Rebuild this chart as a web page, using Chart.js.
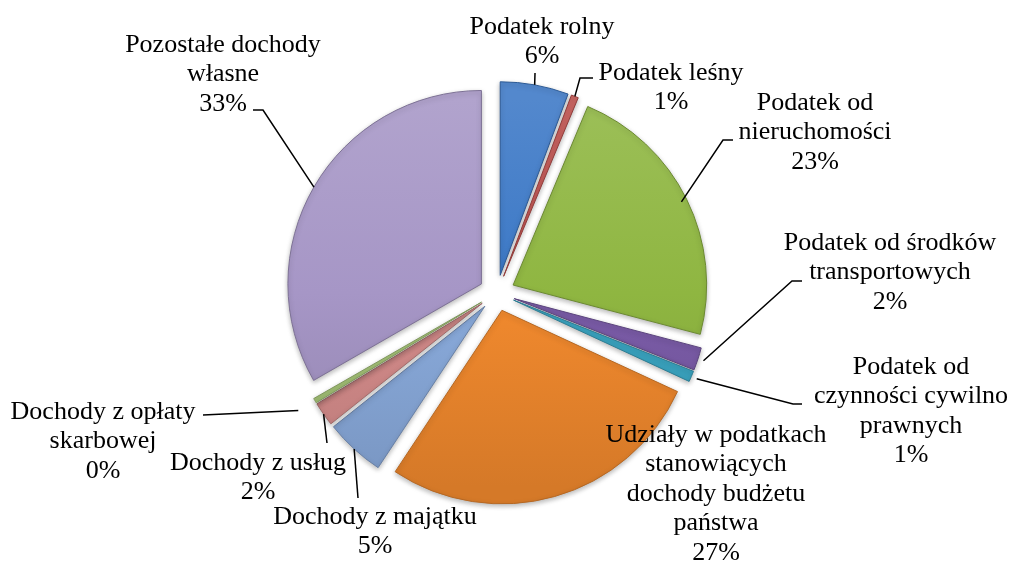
<!DOCTYPE html>
<html>
<head>
<meta charset="utf-8">
<script src="https://cdn.jsdelivr.net/npm/chart.js@4/dist/chart.umd.min.js"></script>
<style>
  html, body { margin: 0; padding: 0; background: #fff; }
  .chart-container { position: relative; width: 1011px; height: 563px; }
</style>
</head>
<body>
<div class="chart-container">
  <canvas id="myChart"></canvas>
</div>
<script>
// data
const categories = [
  ['Podatek rolny'],
  ['Podatek leśny'],
  ['Podatek od', 'nieruchomości'],
  ['Podatek od środków', 'transportowych'],
  ['Podatek od', 'czynności cywilno', 'prawnych'],
  ['Udziały w podatkach', 'stanowiących', 'dochody budżetu', 'państwa'],
  ['Dochody z majątku'],
  ['Dochody z usług'],
  ['Dochody z opłaty', 'skarbowej'],
  ['Pozostałe dochody', 'własne']
];
const shares = [5.7, 0.6, 22.8, 1.9, 0.9, 27.4, 5.0, 2.0, 0.4, 33.3];
const sliceColors = ['#3b78c6', '#c0504d', '#8fb641', '#7b5ca8', '#3ba7c4',
                     '#f28a2e', '#8aabdc', '#d58c8b', '#a9c87a', '#a696c6'];

// label placement, relative to the pie centre (text centre, first line)
// path = leader line points after the slice anchor, k = anchor radius factor
const labelSpots = [
  { x: 45,   y: -266, path: [[38, -220]], k: 1 },
  { x: 174,  y: -220, path: [[83, -215], [96, -215]], k: 1 },
  { x: 318,  y: -190, path: [[226, -153], [236, -153]], k: 0.97 },
  { x: 393,  y: -50,  path: [[295, -12], [305, -12]], k: 1.03 },
  { x: 414,  y: 74,   path: [[296, 111], [305, 111]], k: 1.03 },
  { x: 219,  y: 142,  path: [], k: 1 },
  { x: -122, y: 224,  path: [[-139, 205]], k: 1 },
  { x: -239, y: 170,  path: [[-170, 150]], k: 1 },
  { x: -394, y: 119,  path: [[-294, 122]], k: 1.1 },
  { x: -274, y: -248, path: [[-234, -183], [-244, -183]], k: 1 }
];

const EXPLODE = 18;
const FONT = '26px "Liberation Serif", "Times New Roman", serif';
const LINE_H = 29.5;

function shade(hex, amt) {
  const n = parseInt(hex.slice(1), 16);
  let r = (n >> 16) & 255, g = (n >> 8) & 255, b = n & 255;
  const f = c => Math.round(amt >= 0 ? c + (255 - c) * amt : c * (1 + amt));
  return 'rgb(' + f(r) + ',' + f(g) + ',' + f(b) + ')';
}

// move every slice out along its middle angle while it is drawn
const explodePlugin = {
  id: 'explode',
  beforeDatasetDraw(chart, args) {
    const ctx = chart.ctx;
    ctx.save();
    ctx.shadowColor = 'rgba(0,0,0,0.28)';
    ctx.shadowBlur = 5;
    ctx.shadowOffsetY = 2;
    args.meta.data.forEach(arc => {
      const mid = (arc.startAngle + arc.endAngle) / 2;
      arc.x += EXPLODE * Math.cos(mid);
      arc.y += EXPLODE * Math.sin(mid);
    });
  },
  afterDatasetDraw(chart, args) {
    args.meta.data.forEach(arc => {
      const mid = (arc.startAngle + arc.endAngle) / 2;
      arc.x -= EXPLODE * Math.cos(mid);
      arc.y -= EXPLODE * Math.sin(mid);
    });
    chart.ctx.restore();
  }
};

// labels with leader lines
const labelPlugin = {
  id: 'sliceLabels',
  afterDatasetsDraw(chart) {
    const ctx = chart.ctx;
    const meta = chart.getDatasetMeta(0);
    const total = shares.reduce((a, b) => a + b, 0);
    ctx.save();
    meta.data.forEach((arc, i) => {
      const spot = labelSpots[i];
      const cx = arc.x, cy = arc.y;
      const mid = (arc.startAngle + arc.endAngle) / 2;
      const ax = cx + (EXPLODE + arc.outerRadius * spot.k) * Math.cos(mid);
      const ay = cy + (EXPLODE + arc.outerRadius * spot.k) * Math.sin(mid);

      if (spot.path.length) {
        ctx.beginPath();
        ctx.moveTo(ax, ay);
        spot.path.forEach(p => ctx.lineTo(cx + p[0], cy + p[1]));
        ctx.strokeStyle = '#000';
        ctx.lineWidth = 1.5;
        ctx.stroke();
      }

      const lines = categories[i].concat([Math.round(shares[i] / total * 100) + '%']);
      ctx.font = FONT;
      ctx.fillStyle = '#000';
      ctx.textAlign = 'center';
      ctx.textBaseline = 'middle';
      lines.forEach((t, j) => ctx.fillText(t, cx + spot.x, cy + spot.y + j * LINE_H));
    });
    ctx.restore();
  }
};

const ctx = document.getElementById('myChart').getContext('2d');
new Chart(ctx, {
  type: 'pie',
  data: {
    labels: categories,
    datasets: [{
      data: shares,
      backgroundColor: (c) => {
        const base = sliceColors[c.dataIndex];
        const area = c.chart.chartArea;
        if (!area) return base;
        const g = c.chart.ctx.createLinearGradient(0, area.top, 0, area.bottom);
        g.addColorStop(0, shade(base, 0.12));
        g.addColorStop(0.5, base);
        g.addColorStop(1, shade(base, -0.12));
        return g;
      },
      borderColor: sliceColors.map(c => shade(c, -0.25)),
      borderWidth: 1
    }]
  },
  options: {
    responsive: true,
    maintainAspectRatio: false,
    animation: false,
    layout: { padding: { top: 99, bottom: 76, left: 300, right: 317 } },
    plugins: {
      legend: { display: false },
      tooltip: { enabled: false }
    }
  },
  plugins: [explodePlugin, labelPlugin]
});
</script>
</body>
</html>
